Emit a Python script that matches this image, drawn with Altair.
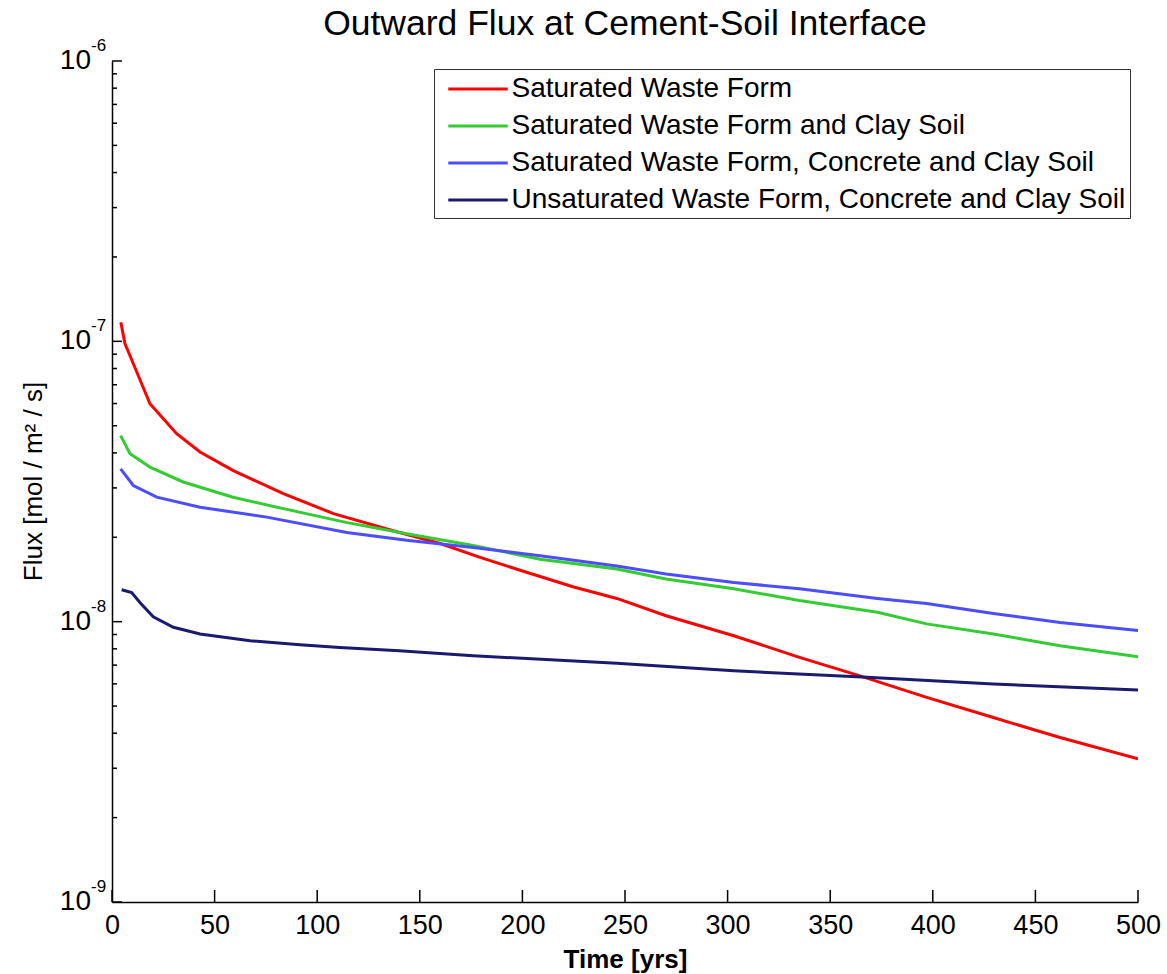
import altair as alt
import pandas as pd

FONT = "Liberation Sans"

series_names = [
    "Saturated Waste Form",
    "Saturated Waste Form and Clay Soil",
    "Saturated Waste Form, Concrete and Clay Soil",
    "Unsaturated Waste Form, Concrete and Clay Soil",
]
series_colors = ["#ff0000", "#33cc33", "#4d4dff", "#1a1a6e"]

red_t = [4.3, 6.3, 10.4, 18.5, 31.5, 42.9, 59.1, 83.5, 107.9, 137, 160, 179, 202, 225, 246, 270, 303, 335, 364.5, 397, 429.5, 462, 500]
red_flux = [1.17e-7, 9.82e-8, 8.32e-8, 5.99e-8, 4.68e-8, 4.03e-8, 3.46e-8, 2.86e-8, 2.43e-8, 2.11e-8, 1.90e-8, 1.70e-8, 1.50e-8, 1.33e-8, 1.21e-8, 1.05e-8, 8.91e-9, 7.46e-9, 6.41e-9, 5.37e-9, 4.55e-9, 3.86e-9, 3.24e-9]

green_t = [4.2, 8.8, 18.5, 34.7, 59, 83.5, 114, 143.6, 176, 208.6, 246, 270, 303, 335, 373, 397, 429.5, 462, 500]
green_flux = [4.61e-8, 3.97e-8, 3.56e-8, 3.15e-8, 2.78e-8, 2.53e-8, 2.26e-8, 2.06e-8, 1.87e-8, 1.67e-8, 1.54e-8, 1.42e-8, 1.31e-8, 1.19e-8, 1.08e-8, 9.82e-9, 9.04e-9, 8.21e-9, 7.50e-9]

blue_t = [4.2, 10.4, 21.8, 42.9, 75.4, 114.4, 143.6, 176, 208.6, 246, 270, 303, 335, 373, 397, 429.5, 462, 500]
blue_flux = [3.51e-8, 3.06e-8, 2.78e-8, 2.56e-8, 2.36e-8, 2.08e-8, 1.95e-8, 1.84e-8, 1.72e-8, 1.58e-8, 1.48e-8, 1.38e-8, 1.31e-8, 1.21e-8, 1.16e-8, 1.07e-8, 9.94e-9, 9.29e-9]

navy_t = [4.7, 9.6, 13.6, 20.1, 29.9, 42.9, 67.3, 91.6, 111, 140, 176, 246, 303, 368, 429.5, 500]
navy_flux = [1.30e-8, 1.27e-8, 1.17e-8, 1.04e-8, 9.55e-9, 9.04e-9, 8.55e-9, 8.28e-9, 8.09e-9, 7.88e-9, 7.56e-9, 7.10e-9, 6.68e-9, 6.33e-9, 5.99e-9, 5.70e-9]

x_tick_values = [0, 50, 100, 150, 200, 250, 300, 350, 400, 450, 500]
y_major_values = [1e-9, 1e-8, 1e-7, 1e-6]
y_major_base = ["10", "10", "10", "10"]
y_major_exp = ["-9", "-8", "-7", "-6"]
y_minor_values = [m * 10.0 ** e for e in (-9, -8, -7) for m in range(2, 10)]

rows = []
for name, ts, fs in zip(series_names,
                        [red_t, green_t, blue_t, navy_t],
                        [red_flux, green_flux, blue_flux, navy_flux]):
    for i, (t, f) in enumerate(zip(ts, fs)):
        rows.append({"series": name, "t": t, "flux": f, "order": i})
df = pd.DataFrame(rows)

W, H = 1026, 841
xscale = alt.Scale(domain=[0, 500], nice=False, zero=False)
yscale = alt.Scale(type="log", domain=[1e-9, 1e-6], nice=False)

x_axis = alt.Axis(values=x_tick_values, title="Time [yrs]", ticks=False, tickSize=0,
                  labelPadding=10, labelFontSize=27, labelFont=FONT, labelColor="black",
                  titleFont=FONT, titleFontSize=26, titleFontWeight="bold", titleColor="black",
                  titlePadding=8, domainColor="black", domainWidth=1.5, grid=False,
                  labelFlush=False)
y_axis = alt.Axis(labels=False, ticks=False, tickSize=0, grid=False,
                  domainColor="black", domainWidth=1.5,
                  title="Flux [mol / m² / s]", titleFont=FONT, titleFontSize=26,
                  titleFontWeight="normal", titleColor="black",
                  titleX=-79, titleY=420, titleAngle=270,
                  titleBaseline="middle", titleAlign="center")

lines = alt.Chart(df).mark_line(strokeWidth=3, clip=True).encode(
    x=alt.X("t:Q", scale=xscale, axis=x_axis),
    y=alt.Y("flux:Q", scale=yscale, axis=y_axis),
    color=alt.Color("series:N",
                    scale=alt.Scale(domain=series_names, range=series_colors),
                    legend=alt.Legend(title=None, orient="top-right", offset=8,
                                      padding=4, strokeColor="#333333", fillColor="white",
                                      labelFont=FONT, labelFontSize=28, labelColor="black",
                                      labelLimit=1000, symbolType="M-2.05,0H2.05",
                                      symbolStrokeWidth=3, symbolSize=841,
                                      symbolOffset=24, labelOffset=17.5, rowPadding=7)),
    order="order:Q",
)

xt_df = pd.DataFrame({"t": x_tick_values})
x_ticks = alt.Chart(xt_df).mark_rule(color="black", strokeWidth=1.5).encode(
    x=alt.X("t:Q", scale=xscale, axis=x_axis),
    y=alt.value(H), y2=alt.value(H - 12),
)

ymaj_df = pd.DataFrame({"flux": y_major_values, "base": y_major_base, "exp": y_major_exp})
ymin_df = pd.DataFrame({"flux": y_minor_values})

y_major_ticks = alt.Chart(ymaj_df).mark_rule(color="black", strokeWidth=1.5).encode(
    y=alt.Y("flux:Q", scale=yscale, axis=y_axis),
    x=alt.value(0), x2=alt.value(10),
)
y_minor_ticks = alt.Chart(ymin_df).mark_rule(color="black", strokeWidth=1.5).encode(
    y=alt.Y("flux:Q", scale=yscale, axis=y_axis),
    x=alt.value(0), x2=alt.value(5),
)
y_base_labels = alt.Chart(ymaj_df).mark_text(
    align="right", baseline="middle", fontSize=28, font=FONT, color="black"
).encode(
    y=alt.Y("flux:Q", scale=yscale, axis=y_axis),
    x=alt.value(-21),
    text="base:N",
)
y_exp_labels = alt.Chart(ymaj_df).mark_text(
    align="left", baseline="middle", fontSize=17, font=FONT, color="black", dy=-15
).encode(
    y=alt.Y("flux:Q", scale=yscale, axis=y_axis),
    x=alt.value(-21),
    text="exp:N",
)

chart = alt.layer(
    lines, x_ticks, y_major_ticks, y_minor_ticks, y_base_labels, y_exp_labels
).properties(
    width=W, height=H,
    title=alt.TitleParams("Outward Flux at Cement-Soil Interface", font=FONT, fontSize=35.5,
                          fontWeight="normal", color="black", anchor="middle", offset=18,
                          frame="group", dy=23),
    autosize=alt.AutoSizeParams(type="none"),
    padding={"left": 112, "top": 61, "right": 29, "bottom": 72},
    background="white",
).configure_view(stroke=None)

chart.save("out.html", embed_options={"renderer": "svg", "actions": False})
